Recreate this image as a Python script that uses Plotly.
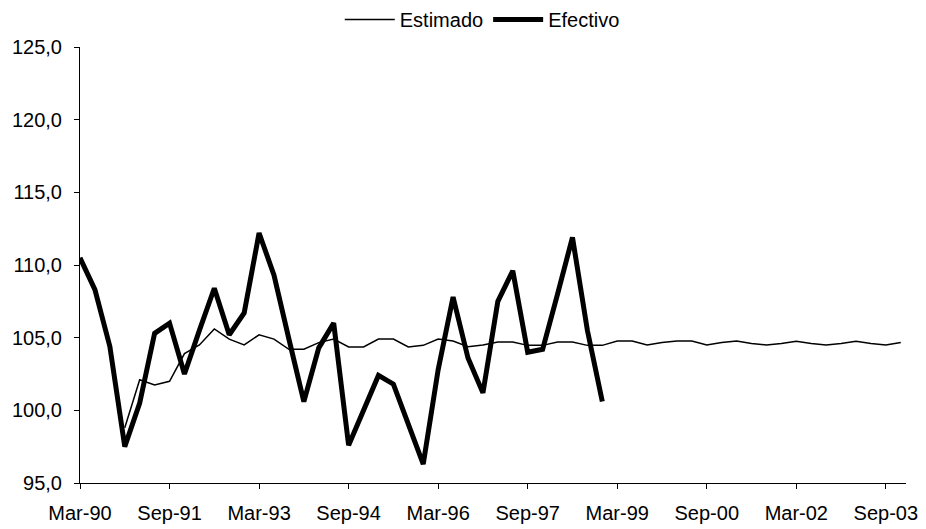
import plotly.graph_objects as go

# Quarterly periods, March 1990 to December 2003
months = ["Mar", "Jun", "Sep", "Dec"]
quarters = [f"{m}-{str(y)[2:]}" for y in range(1990, 2004) for m in months]

# Axis labels shown every six quarters
tick_labels = ["Mar-90", "Sep-91", "Mar-93", "Sep-94", "Mar-96",
               "Sep-97", "Mar-99", "Sep-00", "Mar-02", "Sep-03"]

# Observed index (Mar-90 .. Dec-98)
efectivo = [110.5, 108.3, 104.4, 97.5, 100.5, 105.3, 106.0, 102.5, 105.5, 108.4,
            105.2, 106.7, 112.2, 109.3, 104.9, 100.6, 104.3, 106.0, 97.6, 100.0,
            102.4, 101.8, 99.0, 96.3, 102.8, 107.8, 103.6, 101.2, 107.5, 109.6,
            104.0, 104.2, 108.0, 111.9, 105.5, 100.6]

# Estimated index (Dec-90 .. Dec-03)
estimado = [98.8, 102.1, 101.75, 102.0, 103.9, 104.5, 105.6, 104.9, 104.5, 105.2,
            104.9, 104.2, 104.2, 104.66, 104.9, 104.36, 104.36, 104.9, 104.9, 104.36,
            104.47, 104.9, 104.77, 104.38, 104.5, 104.7, 104.7, 104.47, 104.47, 104.7,
            104.7, 104.47, 104.47, 104.77, 104.77, 104.5, 104.66, 104.77, 104.77, 104.5,
            104.66, 104.77, 104.6, 104.5, 104.6, 104.75, 104.6, 104.5, 104.6, 104.75,
            104.6, 104.5, 104.66]

font_family = "Liberation Sans, Arial, sans-serif"

fig = go.Figure()
fig.add_trace(go.Scatter(
    x=quarters[len(quarters) - len(estimado):], y=estimado, name="Estimado",
    mode="lines", line=dict(color="black", width=1.5),
))
fig.add_trace(go.Scatter(
    x=quarters[:len(efectivo)], y=efectivo, name="Efectivo",
    mode="lines", line=dict(color="black", width=5),
))

fig.update_layout(
    width=926, height=529,
    margin=dict(l=80, r=20, t=47, b=46, autoexpand=False),
    paper_bgcolor="white", plot_bgcolor="white",
    separators=",.",
    font=dict(family=font_family, size=20, color="black"),
    showlegend=True,
    legend=dict(
        orientation="h", x=0.487, xanchor="center", y=1, yanchor="top",
        yref="container", itemwidth=50, font=dict(size=20),
        bgcolor="rgba(0,0,0,0)", tracegroupgap=0,
    ),
    xaxis=dict(
        type="category", categoryorder="array", categoryarray=quarters,
        range=[0, 55.35], tickmode="array", tickvals=tick_labels, ticktext=tick_labels,
        showgrid=False, zeroline=False, showline=True, linecolor="black", linewidth=1,
        ticks="outside", ticklen=5, tickcolor="black", tickwidth=1,
        tickfont=dict(size=20), ticklabelstandoff=7,
    ),
    yaxis=dict(
        range=[95, 125], tickmode="linear", tick0=95, dtick=5, tickformat=".1f",
        showgrid=False, zeroline=False, showline=True, linecolor="black", linewidth=1,
        ticks="outside", ticklen=5, tickcolor="black", tickwidth=1,
        tickfont=dict(size=20), ticklabelstandoff=8,
    ),
)

fig.write_html("out.html")
